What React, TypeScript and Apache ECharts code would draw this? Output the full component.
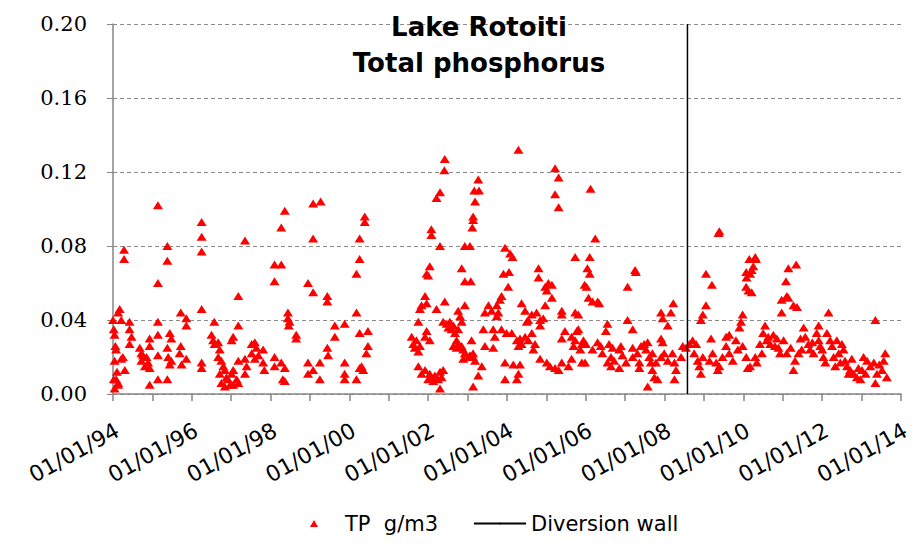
import React, { useEffect, useRef } from "react";
import * as echarts from "echarts";

// Decimal year, TP (g/m3)
const tp1994to1997: [number, number][] = [
  [1994.0, 0.04], [1994.02, 0.035], [1994.04, 0.032], [1994.08, 0.024], [1994.04, 0.018], [1994.1, 0.012], [1994.08, 0.008], [1994.13, 0.006], [1994.02, 0.008], [1994.13, 0.044], [1994.17, 0.046], [1994.21, 0.04], [1994.25, 0.02], [1994.3, 0.013], [1994.28, 0.078], [1994.28, 0.073], [1994.42, 0.039], [1994.42, 0.035], [1994.47, 0.031], [1994.42, 0.027], [1994.06, 0.026], [1994.21, 0.019], [1994.13, 0.005], [1994.04, 0.003],
  [1994.93, 0.03], [1994.93, 0.026], [1994.68, 0.025], [1994.76, 0.021], [1994.72, 0.018], [1994.85, 0.02], [1994.89, 0.017], [1994.93, 0.014], [1994.81, 0.015], [1994.72, 0.022],
  [1995.14, 0.102], [1995.38, 0.08], [1995.38, 0.072], [1995.14, 0.06], [1995.14, 0.039], [1995.14, 0.032], [1995.14, 0.021], [1994.93, 0.005], [1995.14, 0.008], [1995.38, 0.008], [1995.38, 0.025], [1995.44, 0.033], [1995.48, 0.03], [1995.4, 0.02], [1995.44, 0.016], [1995.48, 0.018],
  [1995.72, 0.044], [1995.86, 0.041], [1995.86, 0.037], [1995.72, 0.026], [1995.69, 0.022], [1995.74, 0.016], [1995.86, 0.019],
  [1996.25, 0.093], [1996.25, 0.085], [1996.25, 0.077], [1996.25, 0.046], [1996.25, 0.017], [1996.25, 0.014],
  [1996.57, 0.039], [1996.5, 0.032], [1996.54, 0.029], [1996.58, 0.027], [1996.67, 0.028], [1996.71, 0.024], [1996.67, 0.02], [1996.75, 0.018], [1996.8, 0.015], [1996.71, 0.011], [1996.84, 0.013], [1996.88, 0.009], [1996.92, 0.008], [1996.97, 0.005], [1996.84, 0.004], [1996.75, 0.006], [1997.01, 0.011], [1997.05, 0.013], [1997.14, 0.008], [1997.18, 0.006], [1997.05, 0.005], [1997.01, 0.029], [1997.05, 0.031],
  [1997.35, 0.083], [1997.18, 0.053], [1997.18, 0.037], [1997.18, 0.018], [1997.35, 0.019], [1997.35, 0.011], [1997.39, 0.015], [1997.52, 0.027], [1997.6, 0.028], [1997.64, 0.025], [1997.52, 0.022], [1997.69, 0.021], [1997.6, 0.019], [1997.81, 0.024], [1997.81, 0.017], [1997.84, 0.013],
];

const tp1998to2001: [number, number][] = [
  [1998.1, 0.07], [1998.1, 0.061], [1998.1, 0.02], [1998.1, 0.015], [1998.27, 0.09], [1998.36, 0.099], [1998.27, 0.07], [1998.44, 0.044], [1998.44, 0.041], [1998.46, 0.037], [1998.48, 0.039], [1998.65, 0.032], [1998.65, 0.03], [1998.27, 0.017], [1998.36, 0.014], [1998.31, 0.008], [1998.36, 0.007],
  [1999.08, 0.103], [1999.27, 0.104], [1999.08, 0.084], [1998.95, 0.06], [1999.08, 0.055], [1999.44, 0.053], [1999.44, 0.05], [1998.95, 0.017], [1998.95, 0.011], [1999.08, 0.013], [1999.25, 0.017], [1999.25, 0.008], [1999.44, 0.025], [1999.46, 0.021], [1999.63, 0.037], [1999.88, 0.038], [1999.63, 0.031], [1999.88, 0.017], [1999.88, 0.011], [1999.88, 0.008],
  [2000.39, 0.096], [2000.39, 0.093], [2000.26, 0.084], [2000.26, 0.073], [2000.18, 0.065], [2000.18, 0.044], [2000.26, 0.033], [2000.47, 0.034], [2000.47, 0.026], [2000.43, 0.022], [2000.18, 0.008], [2000.31, 0.015], [2000.35, 0.013], [2000.26, 0.014],
  [2001.58, 0.031], [2001.62, 0.027], [2001.66, 0.025], [2001.7, 0.029], [2001.75, 0.023], [2001.79, 0.026], [2001.75, 0.039], [2001.79, 0.046], [2001.83, 0.048], [2001.96, 0.065], [2002.0, 0.064], [2001.92, 0.053], [2001.75, 0.015], [2001.83, 0.011], [2001.92, 0.013],
];

const tp2002to2005: [number, number][] = [
  [2004.29, 0.132], [2002.42, 0.127], [2002.41, 0.121], [2002.3, 0.109], [2002.21, 0.106], [2002.08, 0.089], [2002.08, 0.086], [2002.3, 0.08], [2003.27, 0.116], [2003.17, 0.11], [2003.29, 0.11], [2003.19, 0.104], [2003.14, 0.096], [2003.14, 0.094], [2003.12, 0.09], [2002.93, 0.08], [2003.06, 0.08], [2005.22, 0.122], [2005.31, 0.117], [2005.22, 0.108], [2005.31, 0.101],
  [2003.95, 0.079], [2004.08, 0.076], [2004.14, 0.074], [2005.73, 0.074], [2002.85, 0.068], [2002.04, 0.069], [2002.93, 0.061], [2003.08, 0.061], [2003.91, 0.065], [2004.05, 0.066], [2004.03, 0.058], [2004.8, 0.068], [2004.8, 0.063], [2005.05, 0.06], [2005.14, 0.059], [2004.97, 0.058], [2005.01, 0.056], [2005.14, 0.052], [2004.97, 0.048], [2005.97, 0.059],
  [2001.96, 0.049], [2002.42, 0.05], [2002.21, 0.046], [2003.86, 0.053], [2003.82, 0.051], [2003.74, 0.048], [2003.53, 0.048], [2003.44, 0.044], [2003.61, 0.045], [2003.78, 0.044], [2003.74, 0.042], [2004.37, 0.049], [2004.46, 0.045], [2004.63, 0.043], [2004.75, 0.044], [2004.84, 0.04], [2004.92, 0.041], [2004.84, 0.037], [2004.5, 0.039], [2004.54, 0.04], [2005.39, 0.045], [2005.39, 0.043], [2005.73, 0.044], [2005.81, 0.043], [2002.76, 0.045], [2002.93, 0.048], [2002.81, 0.042], [2002.85, 0.039],
  [2002.38, 0.039], [2002.47, 0.038], [2002.51, 0.036], [2002.55, 0.039], [2002.64, 0.037], [2002.59, 0.035], [2002.68, 0.033], [2002.76, 0.035], [2002.72, 0.029], [2002.76, 0.027], [2002.64, 0.026], [2002.72, 0.025], [2002.85, 0.026], [2002.89, 0.024], [2002.93, 0.022], [2003.02, 0.02], [2002.89, 0.019], [2003.06, 0.021], [2003.1, 0.029], [2003.14, 0.022], [2003.19, 0.018], [2003.14, 0.02],
  [2001.92, 0.031], [2002.04, 0.029], [2001.96, 0.034],
  [2003.4, 0.035], [2003.44, 0.026], [2003.65, 0.035], [2003.69, 0.031], [2003.65, 0.025], [2003.86, 0.035], [2003.99, 0.033],
  [2004.12, 0.033], [2004.25, 0.029], [2004.33, 0.03], [2004.37, 0.027], [2004.29, 0.026], [2004.46, 0.031], [2004.54, 0.029], [2004.63, 0.033], [2004.67, 0.024], [2004.71, 0.027],
  [2005.39, 0.03], [2005.47, 0.034], [2005.64, 0.031], [2005.77, 0.034], [2005.81, 0.035], [2005.73, 0.029], [2005.69, 0.026], [2005.9, 0.027], [2005.86, 0.024], [2005.94, 0.029],
  [2004.84, 0.019], [2005.01, 0.017], [2005.09, 0.015], [2005.22, 0.014], [2005.31, 0.013], [2005.39, 0.017], [2005.56, 0.015], [2005.64, 0.019], [2005.9, 0.017], [2005.98, 0.017],
  [2003.95, 0.017], [2004.16, 0.016], [2004.33, 0.016], [2004.29, 0.011], [2003.95, 0.008], [2004.25, 0.008],
  [2003.14, 0.004], [2003.27, 0.01], [2003.36, 0.015],
  [2002.04, 0.011], [2002.08, 0.009], [2002.17, 0.01], [2002.25, 0.008], [2002.3, 0.012], [2002.34, 0.009], [2002.38, 0.013], [2002.3, 0.003], [2002.0, 0.008], [2002.13, 0.007],
];

const tp2006to2009: [number, number][] = [
  [2006.12, 0.111], [2006.24, 0.084], [2006.1, 0.074], [2006.04, 0.068], [2006.1, 0.065], [2006.02, 0.058], [2006.07, 0.052], [2007.25, 0.067], [2007.27, 0.066], [2007.06, 0.058], [2006.17, 0.05], [2006.3, 0.05], [2006.34, 0.049], [2008.22, 0.049], [2008.16, 0.044], [2007.91, 0.044], [2007.95, 0.041], [2008.08, 0.037], [2007.06, 0.04], [2006.55, 0.038], [2006.51, 0.034], [2007.19, 0.035], [2007.91, 0.03], [2007.95, 0.028],
  [2006.0, 0.027], [2006.17, 0.024], [2006.3, 0.028], [2006.38, 0.026], [2006.42, 0.022], [2006.59, 0.027], [2006.68, 0.025], [2006.64, 0.02], [2006.55, 0.017], [2006.72, 0.018], [2006.85, 0.024], [2006.89, 0.026], [2006.93, 0.021], [2007.02, 0.017], [2007.19, 0.025], [2007.19, 0.02], [2007.31, 0.022], [2007.4, 0.026], [2007.48, 0.027], [2007.57, 0.028], [2007.53, 0.024], [2007.61, 0.02], [2007.65, 0.017], [2007.69, 0.013], [2007.74, 0.009], [2007.82, 0.008], [2007.69, 0.022], [2007.78, 0.017], [2007.91, 0.02], [2007.99, 0.022], [2008.08, 0.018], [2008.2, 0.022], [2008.25, 0.017], [2008.29, 0.013], [2008.25, 0.008], [2008.42, 0.02], [2008.46, 0.026], [2008.54, 0.025], [2006.64, 0.015], [2006.85, 0.014], [2007.36, 0.014], [2007.36, 0.017], [2007.57, 0.004],
  [2008.63, 0.027], [2008.71, 0.029], [2008.75, 0.022], [2008.8, 0.027], [2008.84, 0.018], [2008.88, 0.015], [2008.92, 0.011], [2008.97, 0.02], [2009.05, 0.065], [2009.2, 0.059], [2009.05, 0.048], [2008.97, 0.043], [2008.92, 0.04], [2009.18, 0.03], [2009.14, 0.018], [2009.22, 0.022], [2009.31, 0.017], [2009.35, 0.013], [2009.39, 0.015], [2009.39, 0.088], [2009.37, 0.087], [2009.47, 0.02], [2009.56, 0.031], [2009.56, 0.026], [2009.64, 0.032], [2009.64, 0.022], [2009.73, 0.018], [2009.81, 0.029], [2009.86, 0.024], [2009.98, 0.043], [2009.94, 0.039], [2009.9, 0.036], [2009.98, 0.026],
];

const tp2010to2013: [number, number][] = [
  [2010.07, 0.066], [2010.15, 0.073], [2010.07, 0.058], [2010.3, 0.074], [2010.32, 0.073], [2010.25, 0.069], [2010.21, 0.067], [2010.17, 0.065], [2010.08, 0.063], [2010.13, 0.056], [2010.21, 0.055], [2010.07, 0.02], [2010.11, 0.014],
  [2011.34, 0.07], [2011.14, 0.068], [2011.08, 0.061], [2010.97, 0.051], [2011.1, 0.053], [2011.14, 0.052], [2011.27, 0.048], [2011.36, 0.047], [2010.97, 0.044], [2012.16, 0.044], [2013.35, 0.04], [2010.55, 0.037], [2011.53, 0.036], [2011.91, 0.037],
  [2010.42, 0.027], [2010.47, 0.022], [2010.59, 0.029], [2010.68, 0.027], [2010.76, 0.032], [2010.85, 0.03], [2010.89, 0.025], [2010.93, 0.022], [2011.1, 0.022], [2010.3, 0.02], [2010.34, 0.017], [2010.17, 0.015], [2011.27, 0.013], [2011.31, 0.018], [2011.4, 0.022], [2011.48, 0.024], [2011.57, 0.031], [2011.65, 0.027], [2011.69, 0.024], [2011.78, 0.022], [2011.86, 0.033], [2011.91, 0.029], [2011.95, 0.026], [2012.03, 0.02], [2012.08, 0.017], [2012.12, 0.033], [2012.2, 0.029], [2012.25, 0.026], [2012.29, 0.02], [2012.33, 0.015], [2012.37, 0.029], [2012.5, 0.027], [2012.54, 0.024], [2012.58, 0.018], [2012.63, 0.015], [2012.67, 0.011], [2012.71, 0.013], [2012.8, 0.011], [2012.88, 0.009], [2012.97, 0.008], [2013.01, 0.013], [2013.05, 0.02], [2013.14, 0.018], [2013.22, 0.015], [2013.31, 0.017], [2013.39, 0.011], [2013.35, 0.006], [2013.52, 0.013], [2013.56, 0.018], [2013.6, 0.022], [2013.64, 0.009],
  [2010.5, 0.033], [2010.63, 0.031], [2010.8, 0.026], [2011.02, 0.029], [2011.2, 0.025], [2011.45, 0.03], [2011.75, 0.028], [2012.0, 0.024], [2012.42, 0.022], [2012.46, 0.017], [2012.75, 0.019], [2012.92, 0.014], [2013.1, 0.011], [2013.45, 0.016],
];

const diversionWallYear = 2008.58;
const yTickValues = [0, 0.04, 0.08, 0.12, 0.16, 0.2];
const xRange = [1994, 2014];
const titleLines = ["Lake Rotoiti", "Total phosphorus"];
const seriesNames = ["TP  g/m3", "Diversion wall"];

export default function App() {
  const ref = useRef<HTMLDivElement>(null);
  useEffect(() => {
    if (!ref.current) return;
    const chart = echarts.init(ref.current, undefined, { renderer: "svg" });
    const tpData = [...tp1994to1997, ...tp1998to2001, ...tp2002to2005, ...tp2006to2009, ...tp2010to2013];
    const legendText = { fontFamily: "DejaVu Sans", fontSize: 21, color: "#000" };
    chart.setOption({
      animation: false,
      backgroundColor: "#ffffff",
      title: {
        text: titleLines.join("\n"),
        left: 474,
        textAlign: "center",
        top: 4,
        textStyle: { fontFamily: "DejaVu Sans", fontSize: 26, fontWeight: "bold", lineHeight: 36, color: "#000" },
      },
      legend: [
        {
          left: 305,
          top: 508,
          itemWidth: 8,
          itemHeight: 7,
          data: [{ name: seriesNames[0], icon: "triangle" }],
          textStyle: { ...legendText, padding: [0, 0, 0, 22] },
        },
        {
          left: 468,
          top: 508,
          itemWidth: 52,
          itemHeight: 2,
          data: [{ name: seriesNames[1] }],
          textStyle: legendText,
        },
      ],
      grid: { left: 113, right: 18, top: 24, bottom: 153, containLabel: false },
      xAxis: {
        type: "value",
        min: xRange[0],
        max: xRange[1],
        interval: 1,
        splitLine: { show: false },
        axisLine: { lineStyle: { color: "#868686", width: 1.5 } },
        axisTick: { show: true, length: 7, lineStyle: { color: "#868686", width: 1.5 } },
        axisLabel: {
          rotate: 29,
          margin: 37,
          showMinLabel: true,
          showMaxLabel: true,
          fontFamily: "DejaVu Sans",
          fontSize: 22,
          color: "#000",
          padding: [0, -5, 0, 0],
          formatter: (v: number) => (Math.round(v) % 2 === 0 ? "01/01/" + String(Math.round(v)).slice(2) : ""),
        },
      },
      yAxis: {
        type: "value",
        min: yTickValues[0],
        max: yTickValues[yTickValues.length - 1],
        interval: 0.04,
        axisLine: { show: true, lineStyle: { color: "#868686", width: 1.5 } },
        axisTick: { show: true, length: 6, lineStyle: { color: "#868686" } },
        splitLine: { show: true, lineStyle: { color: "#8a8a8a", type: [4, 3], width: 1 } },
        axisLabel: {
          margin: 26,
          fontFamily: "DejaVu Serif",
          fontSize: 21,
          color: "#000",
          formatter: (v: number) => v.toFixed(2),
        },
      },
      series: [
        {
          name: seriesNames[0],
          type: "scatter",
          symbol: "triangle",
          symbolSize: [10, 8],
          itemStyle: { color: "#ff0000", opacity: 1 },
          data: tpData,
          z: 2,
        },
        {
          name: seriesNames[1],
          type: "line",
          symbol: "none",
          showSymbol: false,
          lineStyle: { color: "#000000", width: 1.5 },
          itemStyle: { color: "#000000" },
          data: [
            [diversionWallYear, yTickValues[0]],
            [diversionWallYear, yTickValues[yTickValues.length - 1]],
          ],
          z: 3,
        },
      ],
    });
    return () => chart.dispose();
  }, []);
  return <div ref={ref} style={{ position: "absolute", left: 0, top: 0, width: 919, height: 547 }} />;
}
